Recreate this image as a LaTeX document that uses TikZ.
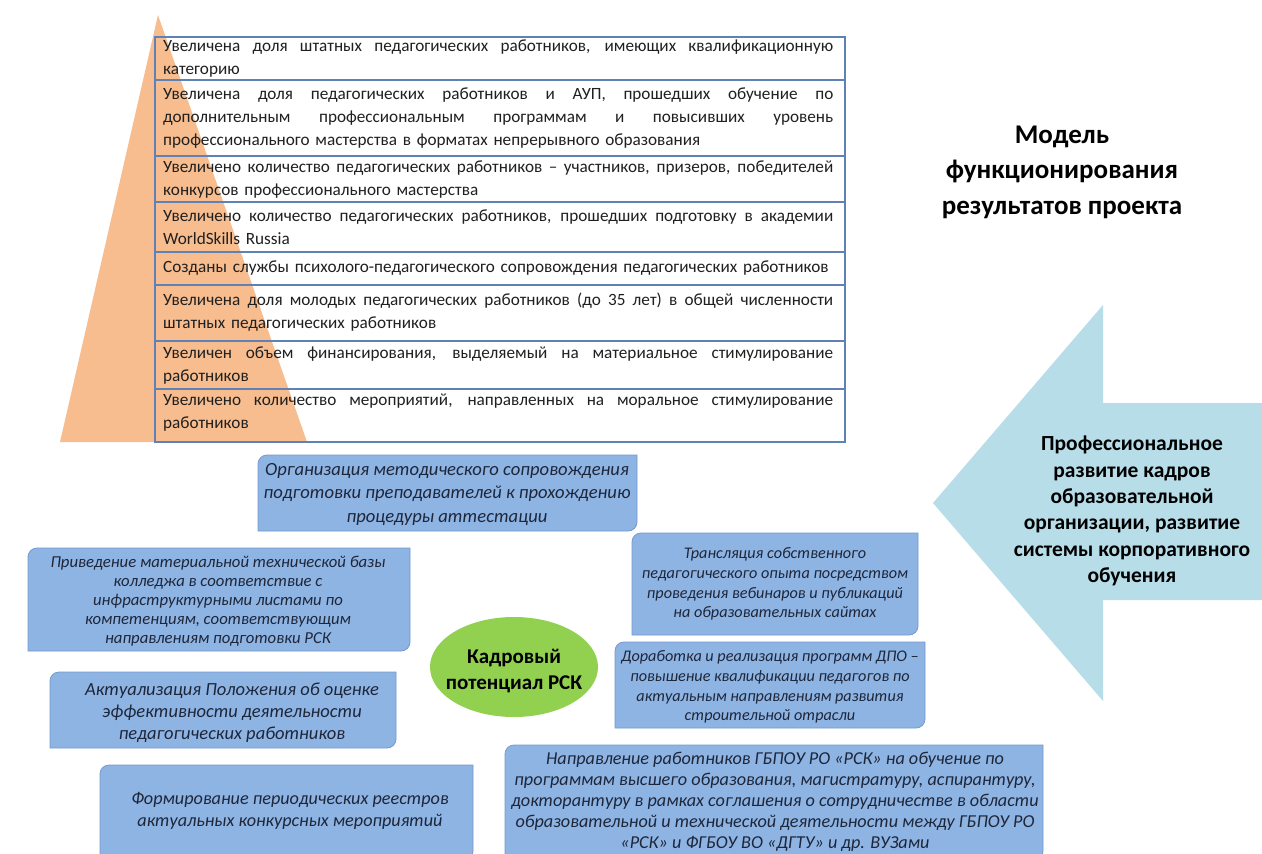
\documentclass[tikz,border=0pt]{standalone}
\usepackage{fontspec}
\setmainfont{Carlito}
\usetikzlibrary{shapes.geometric}
\definecolor{orng}{RGB}{248,189,142}
\definecolor{tblline}{RGB}{95,130,182}
\definecolor{boxfill}{RGB}{142,180,227}
\definecolor{boxedge}{RGB}{116,154,206}
\definecolor{arrowfill}{RGB}{183,221,232}
\definecolor{ellfill}{RGB}{146,208,80}
\definecolor{boxtext}{RGB}{30,38,58}
\definecolor{tbltext}{RGB}{32,32,32}
\newcommand\jl[1]{{\spaceskip=0.25em plus 10em\relax\xspaceskip=0.25em plus 10em\relax\makebox[670pt][s]{#1}}}
\newcommand\rdbox[4]{\path[boxshape] (#1,#4) -- (#1,#2+9) arc[start angle=180,end angle=270,radius=9] -- (#3,#2) -- (#3,#4-9) arc[start angle=0,end angle=90,radius=9] -- cycle;}
\begin{document}
\begin{tikzpicture}[x=1pt,y=-1pt,
  rowtext/.style={anchor=west, inner sep=0pt, text width=672pt, align=left, text=tbltext, font=\fontsize{17.2}{23}\selectfont},
  tline/.style={draw=tblline, line width=1.1pt},
  boxshape/.style={fill=boxfill, draw=boxedge, line width=0.8pt},
  boxtxt/.style={align=center, inner sep=0pt, text=boxtext},
  small/.style={font=\fontsize{16.2}{19.8}\selectfont\itshape}]
\useasboundingbox (0,0) rectangle (1262,854);
\fill[white] (0,0) rectangle (1262,854);
% orange triangle
\fill[orng] (158,15) -- (60,442) -- (307,442) -- cycle;
% table
\draw[tline] (155,37) rectangle (845,442);
\foreach \yy in {80,156,202,252,285,341,389} \draw[tline] (155,\yy) -- (845,\yy);
\node[rowtext] (r1) at (163,58.5) {\jl{Увеличена доля штатных педагогических работников, имеющих квалификационную}\\категорию};
\node[rowtext] (r2) at (163,118) {\jl{Увеличена доля педагогических работников и АУП, прошедших обучение по}\\\jl{дополнительным профессиональным программам и повысивших уровень}\\профессионального мастерства в форматах непрерывного образования};
\node[rowtext] (r3) at (163,180) {\jl{Увеличено количество педагогических работников – участников, призеров, победителей}\\конкурсов профессионального мастерства};
\node[rowtext] (r4) at (163,227) {\jl{Увеличено количество педагогических работников, прошедших подготовку в академии}\\WorldSkills Russia};
\node[rowtext] (r5) at (163,268) {Созданы службы психолого-педагогического сопровождения педагогических работников};
\node[rowtext] (r6) at (163,312) {\jl{Увеличена доля молодых педагогических работников (до 35 лет) в общей численности}\\штатных педагогических работников};
\node[rowtext] (r7) at (163,366) {\jl{Увеличен объем финансирования, выделяемый на материальное стимулирование}\\работников};
\node[rowtext] (r8) at (163,413) {\jl{Увеличено количество мероприятий, направленных на моральное стимулирование}\\работников};
% title
\node[align=center, inner sep=0pt, font=\fontsize{27}{35.5}\selectfont\bfseries] (title) at (1062,172) {Модель\\функционирования\\результатов проекта};
% arrow
\fill[arrowfill] (933,503) -- (1103,305) -- (1103,403) -- (1262,403) -- (1262,600) -- (1103,600) -- (1103,701) -- cycle;
\node[align=center, inner sep=0pt, font=\fontsize{21.5}{26.4}\selectfont\bfseries] (arrowtext) at (1132,511) {Профессиональное\\развитие кадров\\образовательной\\организации, развитие\\системы корпоративного\\обучения};
% boxes
\rdbox{258}{455}{637}{531}
\node[boxtxt, font=\fontsize{18.6}{23.5}\selectfont\itshape] (b1) at (447,494) {Организация методического сопровождения\\подготовки преподавателей к прохождению\\процедуры аттестации};
\rdbox{28}{548}{410}{651}
\node[boxtxt, font=\fontsize{16.7}{19}\selectfont\itshape] (b2) at (218,601) {Приведение материальной технической базы\\колледжа в соответствие с\\инфраструктурными листами по\\компетенциям, соответствующим\\направлениям подготовки РСК};
\rdbox{632}{533}{918}{635}
\node[boxtxt, small] (b3) at (775,584) {Трансляция собственного\\педагогического опыта посредством\\проведения вебинаров и публикаций\\на образовательных сайтах};
\rdbox{615}{642}{925}{728}
\node[boxtxt, small] (b4) at (770,687) {Доработка и реализация программ ДПО –\\повышение квалификации педагогов по\\актуальным направлениям развития\\строительной отрасли};
\rdbox{50}{672}{396}{748}
\node[boxtxt, font=\fontsize{18.5}{22}\selectfont\itshape] (b5) at (232,713) {Актуализация Положения об оценке\\эффективности деятельности\\педагогических работников};
\rdbox{100}{765}{473}{860}
\node[boxtxt, font=\fontsize{18.2}{22}\selectfont\itshape] (b6) at (290,811) {Формирование периодических реестров\\актуальных конкурсных мероприятий};
\rdbox{505}{745}{1043}{860}
\node[boxtxt, font=\fontsize{18.2}{21}\selectfont\itshape] (b7) at (775,802) {Направление работников ГБПОУ РО «РСК» на обучение по\\программам высшего образования, магистратуру, аспирантуру,\\докторантуру в рамках соглашения о сотрудничестве в области\\образовательной и технической деятельности между ГБПОУ РО\\«РСК» и ФГБОУ ВО «ДГТУ» и др. ВУЗами};
% ellipse
\node[ellipse, fill=ellfill, minimum width=168pt, minimum height=100pt, inner sep=0pt] (core) at (514,667) {};
\node[align=center, inner sep=0pt, font=\fontsize{21}{26}\selectfont\bfseries] (coretext) at (514,671) {Кадровый\\потенциал РСК};
\end{tikzpicture}
\end{document}
